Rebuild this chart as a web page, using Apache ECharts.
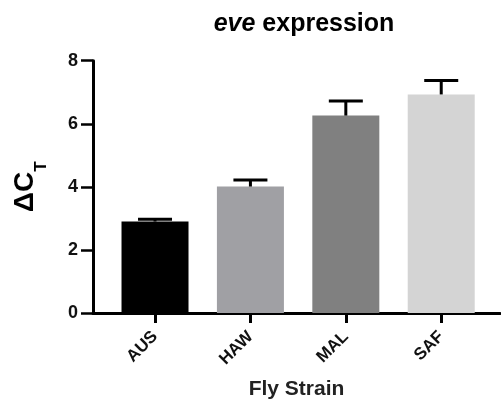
<!DOCTYPE html>
<html><head><meta charset="utf-8">
<script src="https://cdn.jsdelivr.net/npm/echarts@6/dist/echarts.min.js"></script>
<style>html,body{margin:0;padding:0;background:#fff}#c{width:501px;height:403px}</style>
</head><body><div id="c"></div>
<script>
const categories = ['AUS', 'HAW', 'MAL', 'SAF'];
const values = [2.90, 4.01, 6.26, 6.93];
const errors = [0.07, 0.21, 0.46, 0.44];
const barColors = ['#000000', '#a0a0a4', '#808080', '#d4d4d4'];
const yTicks = [0, 2, 4, 6, 8];

const chart = echarts.init(document.getElementById('c'), null, {renderer: 'canvas'});
const F = 'Liberation Sans, Arial, sans-serif';
const idx = categories.map((c, i) => i);

chart.setOption({
  animation: false,
  title: {
    text: '{i|eve} expression',
    left: 299, top: 7, textAlign: 'center',
    textStyle: {fontFamily: F, fontSize: 25, fontWeight: 'bold', color: '#000',
      rich: {i: {fontFamily: F, fontSize: 25, fontWeight: 'bold', fontStyle: 'italic', color: '#000'}}}
  },
  grid: {left: 93, right: 1, top: 60.7, bottom: 90, containLabel: false, outerBoundsMode: 'none'},
  xAxis: {
    type: 'value', min: -0.65, max: 3.616,
    name: 'Fly Strain', nameLocation: 'middle', nameGap: 66,
    nameTextStyle: {fontFamily: F, fontSize: 21, fontWeight: 'bold', color: '#222'},
    axisLine: {show: true, onZero: false, lineStyle: {color: '#000', width: 3}},
    axisTick: {show: true, customValues: idx, length: 10, lineStyle: {color: '#000', width: 3}},
    axisLabel: {customValues: idx, rotate: 45, margin: 21, formatter: v => categories[Math.round(v)],
      fontFamily: F, fontSize: 17, fontWeight: 'bold', color: '#111'},
    splitLine: {show: false}
  },
  yAxis: {
    type: 'value', min: 0, max: 8, interval: 2,
    name: '{a|ΔC}{b|T}', nameLocation: 'middle', nameRotate: 90, nameGap: 22,
    nameTextStyle: {rich: {
      a: {fontFamily: F, fontSize: 28, fontWeight: 'bold', color: '#000', lineHeight: 30, verticalAlign: 'top'},
      b: {fontFamily: F, fontSize: 17, fontWeight: 'bold', color: '#000', lineHeight: 60, verticalAlign: 'middle'}
    }},
    axisLine: {show: true, onZero: false, lineStyle: {color: '#000', width: 3}},
    axisTick: {show: true, length: 12, lineStyle: {color: '#000', width: 2.5}},
    axisLabel: {margin: 15, fontFamily: F, fontSize: 18, fontWeight: 'bold', color: '#111',
      customValues: yTicks},
    splitLine: {show: false}
  },
  series: [
    {
      type: 'bar', barWidth: 67,
      data: values.map((v, i) => ({value: [i, v], itemStyle: {color: barColors[i]}})),
      z: 2
    },
    {
      type: 'custom',
      data: values.map((v, i) => [i, v, errors[i]]),
      renderItem: (params, api) => {
        const x = api.value(0), v = api.value(1), e = api.value(2);
        const p0 = api.coord([x, v]);
        const p1 = api.coord([x, v + e]);
        const hw = 17;
        return {type: 'group', children: [
          {type: 'line', shape: {x1: p0[0], y1: p0[1], x2: p1[0], y2: p1[1]}, style: {stroke: '#000', lineWidth: 3}},
          {type: 'line', shape: {x1: p1[0] - hw, y1: p1[1], x2: p1[0] + hw, y2: p1[1]}, style: {stroke: '#000', lineWidth: 3}}
        ]};
      },
      z: 3
    }
  ]
});
</script></body></html>
